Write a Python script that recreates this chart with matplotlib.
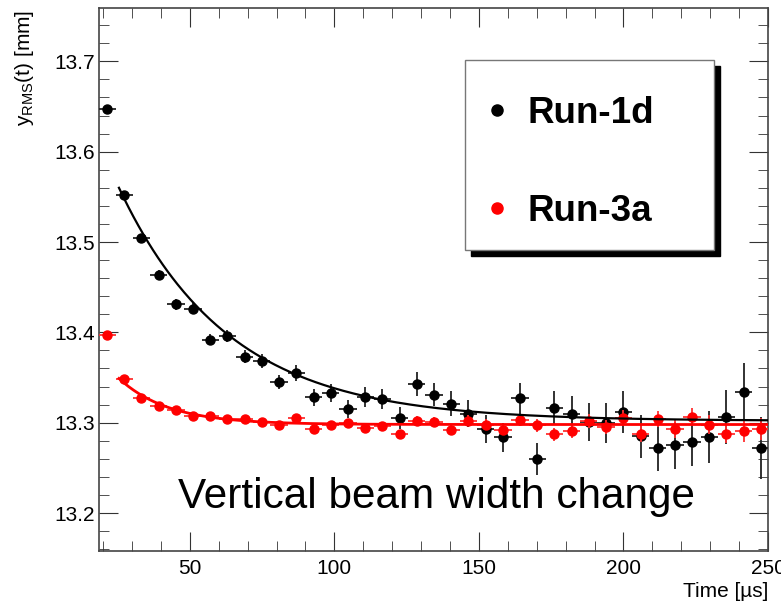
import numpy as np
import matplotlib
matplotlib.use("Agg")
from matplotlib import pyplot as plt
from matplotlib.patches import Rectangle
from matplotlib.lines import Line2D

plt.rcParams['font.family'] = ['Liberation Sans', 'DejaVu Sans']
plt.rcParams['mathtext.fontset'] = 'custom'
plt.rcParams['mathtext.rm'] = 'Liberation Sans'

# bin centres [us]
tiempo = [21.4, 27.3, 33.3, 39.2, 45.2, 51.1, 57.1, 63.0, 69.0, 74.9,
          80.9, 86.9, 92.8, 98.8, 104.7, 110.7, 116.6, 122.6, 128.5, 134.5,
          140.4, 146.4, 152.3, 158.3, 164.2, 170.2, 176.1, 182.1, 188.0, 194.0,
          199.9, 205.9, 211.8, 217.8, 223.7, 229.7, 235.6, 241.6, 247.5]
medio_bin = 2.98

# Run-1d
y_run1d = [13.647, 13.552, 13.504, 13.464, 13.431, 13.426, 13.392, 13.396, 13.373, 13.368,
           13.345, 13.355, 13.328, 13.333, 13.315, 13.328, 13.326, 13.305, 13.343, 13.331,
           13.321, 13.310, 13.293, 13.284, 13.327, 13.260, 13.316, 13.310, 13.301, 13.300,
           13.312, 13.285, 13.272, 13.275, 13.279, 13.284, 13.306, 13.334, 13.272]
err_run1d = [0.004, 0.005, 0.005, 0.005, 0.006, 0.006, 0.006, 0.007, 0.007, 0.008,
             0.008, 0.009, 0.009, 0.010, 0.010, 0.011, 0.011, 0.012, 0.013, 0.013,
             0.014, 0.015, 0.015, 0.016, 0.017, 0.018, 0.019, 0.020, 0.021, 0.022,
             0.023, 0.024, 0.025, 0.026, 0.027, 0.029, 0.030, 0.032, 0.034]

# Run-3a
y_run3a = [13.397, 13.348, 13.327, 13.318, 13.314, 13.307, 13.307, 13.304, 13.304, 13.301,
           13.298, 13.305, 13.293, 13.298, 13.300, 13.294, 13.296, 13.287, 13.302, 13.301,
           13.292, 13.302, 13.298, 13.292, 13.303, 13.297, 13.287, 13.291, 13.302, 13.295,
           13.305, 13.288, 13.304, 13.293, 13.306, 13.298, 13.288, 13.291, 13.293]
err_run3a = [0.002, 0.002, 0.002, 0.002, 0.002, 0.003, 0.003, 0.003, 0.003, 0.003,
             0.003, 0.004, 0.004, 0.004, 0.004, 0.004, 0.005, 0.005, 0.005, 0.005,
             0.006, 0.006, 0.006, 0.006, 0.007, 0.007, 0.007, 0.008, 0.008, 0.008,
             0.009, 0.009, 0.009, 0.010, 0.010, 0.011, 0.011, 0.012, 0.012]

# parametros del ajuste exponencial: C + A*exp(-(t - t0)/tau)
t0 = 25.5
ajuste_1d = (13.302, 0.258, 37.9)
ajuste_3a = (13.298, 0.051, 17.2)

fig = plt.figure(figsize=(7.81, 6.01), dpi=100)
ax = fig.add_axes([99/781, 50/601, 669/781, 543/601])

ax.errorbar(tiempo, y_run1d, xerr=medio_bin, yerr=err_run1d, fmt='o', color='black',
            ecolor='#222222', ms=6.5, elinewidth=1.3, capsize=0, zorder=3)
ax.errorbar(tiempo, y_run3a, xerr=medio_bin, yerr=err_run3a, fmt='o', color='#ff0000',
            ecolor='#ff3030', ms=6.5, elinewidth=1.3, capsize=0, zorder=4)

t = np.linspace(t0, 250, 400)
C, A, tau = ajuste_1d
ax.plot(t, C + A*np.exp(-(t - t0)/tau), color='black', lw=1.6, zorder=5)
C, A, tau = ajuste_3a
ax.plot(t, C + A*np.exp(-(t - t0)/tau), color='#ff0000', lw=2.0, zorder=5)

ax.set_xlim(18.6, 250)
ax.set_ylim(13.158, 13.759)
ax.set_xticks([50, 100, 150, 200, 250])
ax.set_xticks(np.arange(20, 251, 10), minor=True)
ax.set_yticks([13.2, 13.3, 13.4, 13.5, 13.6, 13.7])
ax.set_yticks(np.arange(13.16, 13.76, 0.02), minor=True)
ax.set_yticklabels(['13.2', '13.3', '13.4', '13.5', '13.6', '13.7'])
ax.tick_params(which='both', direction='in', top=True, right=True, labelsize=15,
               color='#333333')
ax.tick_params(which='major', length=14)
ax.tick_params(which='minor', length=7)
ax.tick_params(axis='y', pad=3)
ax.tick_params(axis='x', pad=6)
for s in ax.spines.values():
    s.set_color('#444444')
    s.set_linewidth(1.2)

fig.text(768/781, 1 - 597/601, 'Time [µs]', ha='right', va='baseline', fontsize=15)
fig.text(25/781, 1 - 10/601, r'y$_{\mathrm{RMS}}$(t) [mm]', rotation=90,
         ha='center', va='top', fontsize=15)

ax.text(45.8, 13.2055, 'Vertical beam width change', fontsize=30.4, va='baseline',
        ha='left', zorder=6)

# leyenda con sombra
sombra = Rectangle((471/781, 1 - 256/601), 249/781, 190/601, transform=fig.transFigure,
                   facecolor='black', edgecolor='black', zorder=8)
caja = Rectangle((465/781, 1 - 250/601), 249/781, 190/601, transform=fig.transFigure,
                 facecolor='white', edgecolor='#777777', lw=1.0, zorder=9)
fig.add_artist(sombra)
fig.add_artist(caja)
for yy, col, lab in [(110, 'black', 'Run-1d'), (208, '#ff0000', 'Run-3a')]:
    fig.add_artist(Line2D([497/781], [1 - yy/601], marker='o', ms=8, color=col,
                          transform=fig.transFigure, zorder=10))
    fig.text(528/781, 1 - (yy + 13)/601, lab, fontsize=26.5, fontweight='bold',
             va='baseline', ha='left', zorder=10)

fig.savefig('out.png', dpi=100)
